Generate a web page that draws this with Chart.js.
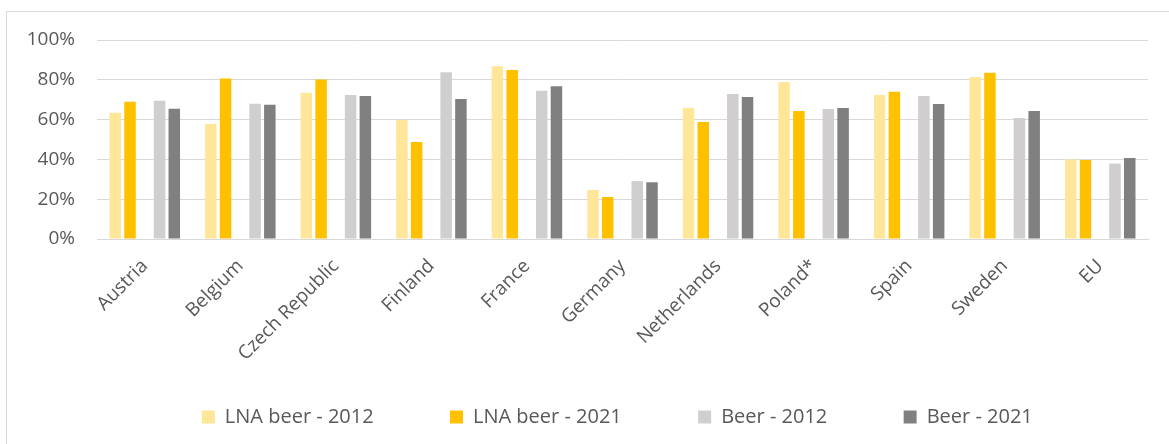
<!DOCTYPE html>
<html>
<head>
<meta charset="utf-8">
<script src="https://cdn.jsdelivr.net/npm/chart.js@4.4.1/dist/chart.umd.min.js"></script>
<style>
  html, body { margin: 0; padding: 0; background: #fff; overflow: hidden; }
  #wrap { position: relative; width: 1169px; height: 444px; }
  #frame { position: absolute; left: 6px; top: 11px; width: 1250px; height: 500px; border: 1px solid #D9D9D9; box-sizing: border-box; }
  canvas { position: absolute; left: 0; top: 0; }
</style>
</head>
<body>
<div id="wrap">
  <div id="frame"></div>
  <canvas id="c" width="1169" height="444"></canvas>
</div>
<script>
const categories = ["Austria", "Belgium", "Czech Republic", "Finland", "France", "Germany", "Netherlands", "Poland*", "Spain", "Sweden", "EU"];
const lnaBeer2012 = [63.5, 57.8, 73.5, 59.8, 86.8, 24.6, 65.8, 78.9, 72.4, 81.4, 39.9];
const lnaBeer2021 = [69.0, 80.6, 80.1, 48.7, 84.9, 21.1, 58.8, 64.3, 74.0, 83.6, 39.7];
const beer2012 = [69.5, 68.0, 72.4, 83.8, 74.5, 29.1, 72.9, 65.3, 71.9, 60.8, 37.9];
const beer2021 = [65.5, 67.5, 71.9, 70.4, 76.7, 28.5, 71.4, 65.8, 67.8, 64.3, 40.7];
const spacer = [null, null, null, null, null, null, null, null, null, null, null];
const yTicks = [0, 20, 40, 60, 80, 100];

const textColor = '#595959';
const gridColor = '#D9D9D9';
const SP = '\u00a0';

new Chart(document.getElementById('c'), {
  type: 'bar',
  data: {
    labels: categories,
    datasets: [
      { label: 'LNA beer - 2012', data: lnaBeer2012, backgroundColor: '#FFE699' },
      { label: 'LNA beer - 2021', data: lnaBeer2021, backgroundColor: '#FFC000' },
      { label: '', data: spacer, backgroundColor: 'rgba(0,0,0,0)' },
      { label: 'Beer - 2012', data: beer2012, backgroundColor: '#D0CECE' },
      { label: 'Beer - 2021', data: beer2021, backgroundColor: '#808080' }
    ]
  },
  options: {
    responsive: false,
    animation: false,
    datasets: { bar: { categoryPercentage: 0.772, barPercentage: 0.78 } },
    layout: { padding: { left: 10, right: 21, top: 40, bottom: 7 } },
    plugins: {
      tooltip: { enabled: false },
      legend: {
        position: 'bottom',
        fullSize: false,
        labels: {
          filter: (item) => item.text.trim() !== '',
          generateLabels: (chart) => {
            const items = Chart.defaults.plugins.legend.labels.generateLabels(chart);
            const vis = items.filter(it => it.text !== '');
            vis.forEach((it, i) => {
              it.text = it.text + SP.repeat(i === vis.length - 1 ? 2 : 7);
            });
            return items;
          },
          boxWidth: 13,
          boxHeight: 13,
          padding: 40,
          color: textColor,
          font: { family: 'Open Sans', size: 20 }
        }
      }
    },
    scales: {
      x: {
        grid: { display: false, drawTicks: false },
        border: { display: true, color: gridColor, width: 1 },
        ticks: {
          color: textColor,
          font: { family: 'Open Sans', size: 19 },
          minRotation: 45,
          maxRotation: 45,
          padding: 16
        },
        afterFit: (s) => { s.height = 128; }
      },
      y: {
        min: 0,
        max: 100,
        afterBuildTicks: (s) => { s.ticks = yTicks.map(v => ({ value: v })); },
        grid: { color: gridColor, lineWidth: 1, drawTicks: false },
        border: { display: false },
        ticks: {
          color: textColor,
          font: { family: 'Open Sans', size: 19 },
          padding: 22,
          callback: (v) => v + '%'
        },
        afterFit: (s) => { s.width = 87; }
      }
    }
  }
});
</script>
</body>
</html>
